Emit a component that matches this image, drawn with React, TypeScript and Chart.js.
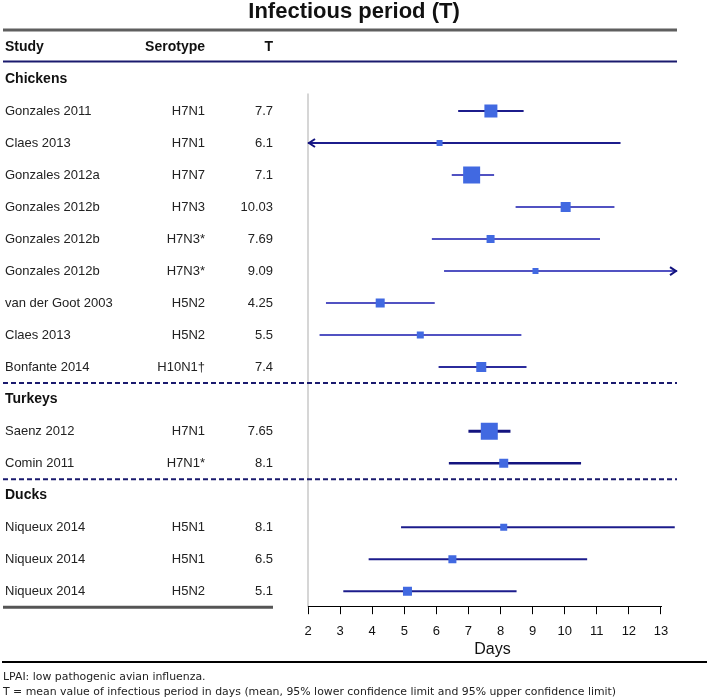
import React, { useEffect, useRef } from 'react';
import { Chart, registerables } from 'chart.js';

Chart.register(...registerables);

// ---------------- data ----------------
const chartTitle = 'Infectious period (T)';
const headers = ['Study', 'Serotype', 'T'];
const groups = ['Chickens', 'Turkeys', 'Ducks'];
const groupOf = [0, 0, 0, 0, 0, 0, 0, 0, 0, 1, 1, 2, 2, 2];
const studies = [
  'Gonzales 2011', 'Claes 2013', 'Gonzales 2012a', 'Gonzales 2012b', 'Gonzales 2012b',
  'Gonzales 2012b', 'van der Goot 2003', 'Claes 2013', 'Bonfante 2014',
  'Saenz 2012', 'Comin 2011',
  'Niqueux 2014', 'Niqueux 2014', 'Niqueux 2014',
];
const serotypes = [
  'H7N1', 'H7N1', 'H7N7', 'H7N3', 'H7N3*', 'H7N3*', 'H5N2', 'H5N2', 'H10N1†',
  'H7N1', 'H7N1*',
  'H5N1', 'H5N1', 'H5N2',
];
const tLabels = ['7.7', '6.1', '7.1', '10.03', '7.69', '9.09', '4.25', '5.5', '7.4', '7.65', '8.1', '8.1', '6.5', '5.1'];
const means = [7.7, 6.1, 7.1, 10.03, 7.69, 9.09, 4.25, 5.5, 7.4, 7.65, 8.1, 8.1, 6.5, 5.1];
const lower = [6.68, 1.2, 6.48, 8.47, 5.86, 6.24, 2.56, 2.36, 6.07, 7.0, 6.39, 4.9, 3.89, 3.1];
const upper = [8.72, 11.74, 7.8, 11.55, 11.1, 14.2, 5.95, 8.65, 8.81, 8.31, 10.51, 13.43, 10.7, 8.5];
const weights = [13, 6, 17, 10, 8, 6, 9, 7, 10, 17, 9, 7, 8, 9];
const xTicks = [2, 3, 4, 5, 6, 7, 8, 9, 10, 11, 12, 13];
const xMin = 2;
const xMax = 13.5;
const referenceValue = 2;
const xTitle = 'Days';
const footnotes = [
  'LPAI: low pathogenic avian influenza.',
  'T = mean value of infectious period in days (mean, 95% lower confidence limit and 95% upper confidence limit)',
];

// ---------------- styles ----------------
const ciColors = [
  '#1c1c8c', '#1c1c8c', '#5152c2', '#5152c2', '#5152c2', '#5152c2', '#5152c2', '#5152c2', '#2b2b9c',
  '#14147f', '#14147f', '#1c1c8c', '#1c1c8c', '#1c1c8c',
];
const ciWidths = [2, 2, 2, 2, 2, 2, 2, 2, 2, 3, 2.5, 2, 2, 2];
const squareColor = '#4169e1';
const navy = '#1a1a6e';
const SANS = '"Liberation Sans", Arial, Helvetica, sans-serif';

// row layout (row indices on the y scale)
const rowPos: number[] = [];
const groupPos: number[] = [];
const sepPos: number[] = [];
(() => {
  let pos = 0;
  groups.forEach((_, gi) => {
    if (gi > 0) sepPos.push(pos - 0.5);
    groupPos.push(pos);
    pos++;
    groupOf.forEach((g, i) => {
      if (g === gi) {
        rowPos[i] = pos;
        pos++;
      }
    });
  });
})();
const yTop = -1.5;
const yBottom = rowPos[rowPos.length - 1] + 0.5;

const forestPlugin = {
  id: 'forestTable',
  beforeDatasetsDraw(chart: any) {
    const { ctx, chartArea } = chart;
    const x = chart.scales.x;
    const y = chart.scales.y;
    ctx.save();
    const px = x.getPixelForValue(referenceValue);
    ctx.strokeStyle = '#c8c8c8';
    ctx.lineWidth = 1.5;
    ctx.beginPath();
    ctx.moveTo(px, y.getPixelForValue(0.45));
    ctx.lineTo(px, chartArea.bottom);
    ctx.stroke();
    ctx.restore();
  },
  afterDatasetsDraw(chart: any) {
    const { ctx, chartArea } = chart;
    const y = chart.scales.y;
    ctx.save();
    ctx.strokeStyle = '#14147f';
    ctx.lineWidth = 2;
    ctx.lineJoin = 'miter';
    means.forEach((_, i) => {
      const py = y.getPixelForValue(rowPos[i]);
      if (lower[i] < xMin) {
        const l = chartArea.left + 1;
        ctx.beginPath();
        ctx.moveTo(l + 6, py - 4);
        ctx.lineTo(l, py);
        ctx.lineTo(l + 6, py + 4);
        ctx.stroke();
      }
      if (upper[i] > xMax) {
        const r = chartArea.right - 1;
        ctx.beginPath();
        ctx.moveTo(r - 6, py - 4);
        ctx.lineTo(r, py);
        ctx.lineTo(r - 6, py + 4);
        ctx.stroke();
      }
    });
    ctx.restore();
  },
  afterDraw(chart: any) {
    const { ctx, chartArea } = chart;
    const x = chart.scales.x;
    const y = chart.scales.y;
    const W = chart.width;
    ctx.save();
    ctx.textBaseline = 'middle';
    ctx.fillStyle = '#111';

    // title
    ctx.font = `bold 22px ${SANS}`;
    ctx.textAlign = 'center';
    ctx.fillText(chartTitle, 354, 12);

    // top gray rule
    ctx.strokeStyle = '#5f5f5f';
    ctx.lineWidth = 3;
    ctx.beginPath();
    ctx.moveTo(3, y.getPixelForValue(yTop) - 1);
    ctx.lineTo(chartArea.right, y.getPixelForValue(yTop) - 1);
    ctx.stroke();

    // header
    const hy = y.getPixelForValue(-1);
    ctx.font = `bold 14px ${SANS}`;
    ctx.textAlign = 'left';
    ctx.fillText(headers[0], 5, hy);
    ctx.textAlign = 'right';
    ctx.fillText(headers[1], 205, hy);
    ctx.fillText(headers[2], 273, hy);

    // navy rule under header
    ctx.strokeStyle = navy;
    ctx.lineWidth = 2;
    ctx.beginPath();
    ctx.moveTo(3, y.getPixelForValue(-0.55));
    ctx.lineTo(chartArea.right, y.getPixelForValue(-0.55));
    ctx.stroke();

    // group labels
    ctx.font = `bold 14px ${SANS}`;
    ctx.textAlign = 'left';
    groups.forEach((g, gi) => ctx.fillText(g, 5, y.getPixelForValue(groupPos[gi])));

    // rows
    ctx.font = `13px ${SANS}`;
    ctx.fillStyle = '#222';
    studies.forEach((s, i) => {
      const py = y.getPixelForValue(rowPos[i]);
      ctx.textAlign = 'left';
      ctx.fillText(s, 5, py);
      ctx.textAlign = 'right';
      ctx.fillText(serotypes[i], 205, py);
      ctx.fillText(tLabels[i], 273, py);
    });

    // dashed separators
    ctx.strokeStyle = navy;
    ctx.lineWidth = 2;
    ctx.setLineDash([5, 3]);
    sepPos.forEach((p) => {
      const py = y.getPixelForValue(p);
      ctx.beginPath();
      ctx.moveTo(3, py);
      ctx.lineTo(chartArea.right, py);
      ctx.stroke();
    });
    ctx.setLineDash([]);

    // bottom gray rule under table
    ctx.strokeStyle = '#555';
    ctx.lineWidth = 3;
    ctx.beginPath();
    ctx.moveTo(3, y.getPixelForValue(yBottom));
    ctx.lineTo(273, y.getPixelForValue(yBottom));
    ctx.stroke();

    // x axis line (from first to last tick)
    ctx.strokeStyle = '#000';
    ctx.lineWidth = 1;
    const ay = Math.round(chartArea.bottom) - 0.5;
    ctx.beginPath();
    ctx.moveTo(x.getPixelForValue(xTicks[0]), ay);
    ctx.lineTo(x.getPixelForValue(xTicks[xTicks.length - 1]) + 1, ay);
    ctx.stroke();

    // bottom rule
    ctx.lineWidth = 2;
    ctx.beginPath();
    ctx.moveTo(2, 662);
    ctx.lineTo(W - 2, 662);
    ctx.stroke();

    // footnotes
    ctx.fillStyle = '#222';
    ctx.font = '10.9px "DejaVu Sans", Verdana, sans-serif';
    ctx.textAlign = 'left';
    ctx.fillText(footnotes[0], 3, 677);
    ctx.fillText(footnotes[1], 3, 692);
    ctx.restore();
  },
};

export default function App() {
  const canvasRef = useRef<HTMLCanvasElement | null>(null);

  useEffect(() => {
    const canvas = canvasRef.current;
    if (!canvas) return;

    const ciDatasets = means.map((_, i) => ({
      type: 'scatter' as const,
      label: `ci-${i}`,
      data: [
        { x: lower[i], y: rowPos[i] },
        { x: upper[i], y: rowPos[i] },
      ],
      showLine: true,
      borderColor: ciColors[i],
      borderWidth: ciWidths[i],
      pointRadius: 0,
      clip: 0,
      order: 2,
    }));

    const squareDataset = {
      type: 'scatter' as const,
      label: 'T',
      data: means.map((m, i) => ({ x: m, y: rowPos[i] })),
      pointStyle: 'rect',
      pointRadius: weights.map((w) => w / Math.SQRT2),
      backgroundColor: squareColor,
      pointBackgroundColor: squareColor,
      pointBorderWidth: 0,
      borderWidth: 0,
      showLine: false,
      order: 1,
    };

    const chart = new Chart(canvas, {
      type: 'scatter',
      data: { datasets: [...ciDatasets, squareDataset] as any },
      options: {
        responsive: false,
        animation: false,
        devicePixelRatio: 1,
        events: [],
        layout: { padding: { left: 308, right: 32, top: 31, bottom: 41 } },
        plugins: { legend: { display: false }, tooltip: { enabled: false }, title: { display: false } },
        scales: {
          x: {
            type: 'linear',
            min: xMin,
            max: xMax,
            afterBuildTicks: (scale: any) => {
              scale.ticks = xTicks.map((v) => ({ value: v }));
            },
            grid: { drawOnChartArea: false, drawTicks: true, tickLength: 7, color: '#000', lineWidth: 1 },
            border: { display: false },
            ticks: {
              padding: 9,
              color: '#111',
              font: { family: SANS, size: 13 },
              maxRotation: 0,
              autoSkip: false,
            },
            title: {
              display: true,
              text: xTitle,
              color: '#111',
              font: { family: SANS, size: 16 },
              padding: { top: -8, bottom: 0 },
            },
          },
          y: {
            type: 'linear',
            display: false,
            reverse: true,
            min: yTop,
            max: yBottom,
          },
        },
      },
      plugins: [forestPlugin],
    });

    return () => chart.destroy();
  }, []);

  return (
    <div style={{ position: 'absolute', left: 0, top: 0, width: 709, height: 700, background: '#fff' }}>
      <canvas ref={canvasRef} width={709} height={700} style={{ display: 'block', width: 709, height: 700 }} />
    </div>
  );
}
